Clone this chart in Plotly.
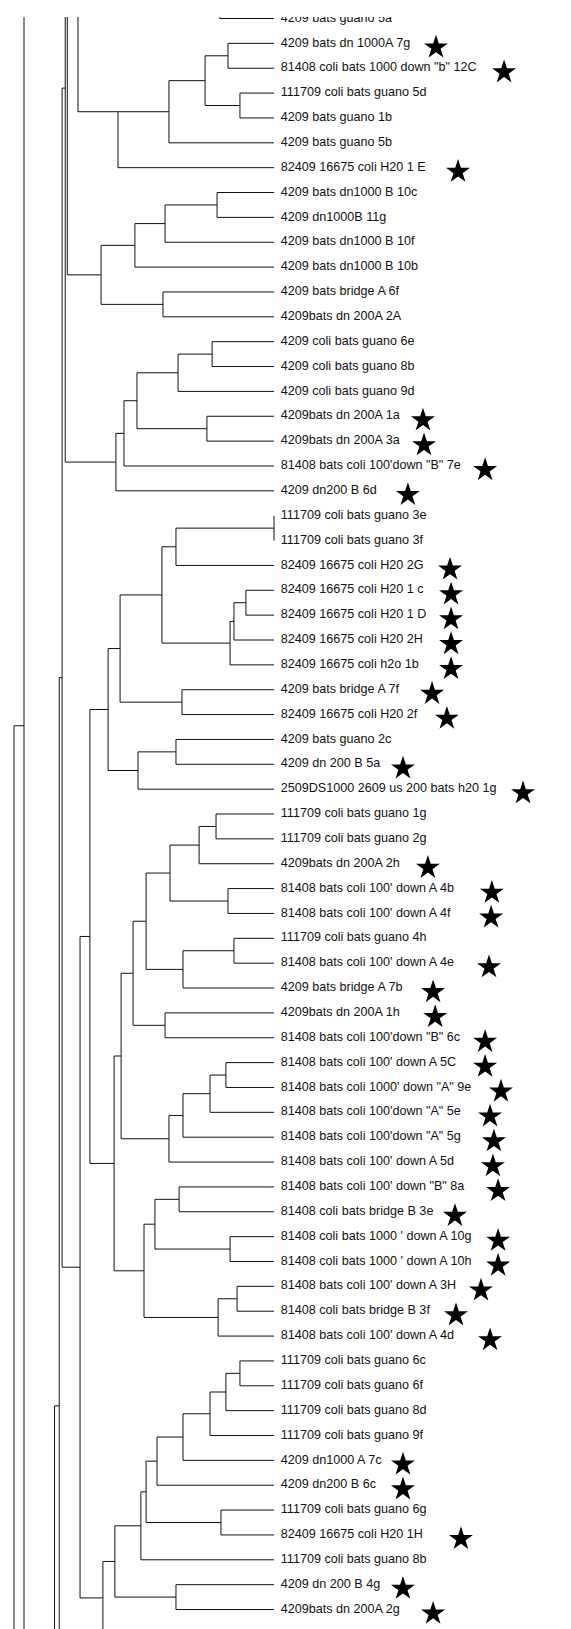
import plotly.graph_objects as go

# leaf labels, top to bottom (first and last are cut by the frame)
labels = [
    "4209 bats guano 5a", "4209 bats dn 1000A 7g", '81408 coli bats 1000 down "b" 12C',
    "111709 coli bats guano 5d", "4209 bats guano 1b", "4209 bats guano 5b",
    "82409 16675 coli H20 1 E", "4209 bats dn1000 B 10c", "4209 dn1000B 11g",
    "4209 bats dn1000 B 10f", "4209 bats dn1000 B 10b", "4209 bats bridge A 6f",
    "4209bats dn 200A 2A", "4209 coli bats guano 6e", "4209 coli bats guano 8b",
    "4209 coli bats guano 9d", "4209bats dn 200A 1a", "4209bats dn 200A 3a",
    '81408 bats coli 100\'down "B" 7e', "4209 dn200 B 6d", "111709 coli bats guano 3e",
    "111709 coli bats guano 3f", "82409 16675 coli H20 2G", "82409 16675 coli H20 1 c",
    "82409 16675 coli H20 1 D", "82409 16675 coli H20 2H", "82409 16675 coli h2o 1b",
    "4209 bats bridge A 7f", "82409 16675 coli H20 2f", "4209 bats guano 2c",
    "4209 dn 200 B 5a", "2509DS1000 2609 us 200 bats h20 1g", "111709 coli bats guano 1g",
    "111709 coli bats guano 2g", "4209bats dn 200A 2h", "81408 bats coli 100' down A 4b",
    "81408 bats coli 100' down A 4f", "111709 coli bats guano 4h", "81408 bats coli 100' down A 4e",
    "4209 bats bridge A 7b", "4209bats dn 200A 1h", '81408 bats coli 100\'down "B" 6c',
    "81408 bats coli 100' down A 5C", '81408 bats coli 1000\' down "A" 9e',
    '81408 bats coli 100\'down "A" 5e', '81408 bats coli 100\'down "A" 5g',
    "81408 bats coli 100' down A 5d", '81408 bats coli 100\' down "B" 8a',
    "81408 coli bats bridge B 3e", "81408 coli bats 1000 ' down A 10g",
    "81408 coli bats 1000 ' down A 10h", "81408 bats coli 100' down A 3H",
    "81408 coli bats bridge B 3f", "81408 bats coli 100' down A 4d",
    "111709 coli bats guano 6c", "111709 coli bats guano 6f", "111709 coli bats guano 8d",
    "111709 coli bats guano 9f", "4209 dn1000 A 7c", "4209 dn200 B 6c",
    "111709 coli bats guano 6g", "82409 16675 coli H20 1H", "111709 coli bats guano 8b",
    "4209 dn 200 B 4g", "4209bats dn 200A 2g", "4209 dn200 B 6e",
]

# starred isolates (leaf index) and where the star sits (similarity units)
star_leaf = [1, 2, 6, 16, 17, 18, 19, 22, 23, 24, 25, 26, 27, 28, 30, 31, 34, 35, 36,
             38, 39, 40, 41, 42, 43, 44, 45, 46, 47, 48, 49, 50, 51, 52, 53, 58, 59,
             61, 63, 64]
star_pos = [162.3, 188.5, 170.8, 157.3, 157.7, 181.2, 151.5, 167.7, 168.1, 168.1,
            168.1, 168.1, 160.8, 166.5, 149.6, 195.8, 159.2, 183.8, 183.5, 182.7,
            161.2, 162.0, 181.2, 181.2, 187.3, 183.1, 184.6, 184.2, 186.2, 169.6,
            186.2, 186.2, 179.6, 170.0, 183.1, 149.6, 149.6, 171.9, 149.6, 161.2]

# tree: (similarity %, children, joins-at-first-child); int = leaf index;
# ("cut", pos) = branch leaving the frame
def N(s, *kids, top=False):
    return (s, kids, top)

def cut(p):
    return ("cut", p)

clade_a = N(24.6, cut(-8), N(40.0, N(59.6, N(73.5, N(82.3, 1, 2), N(86.9, 3, 4)), 5), 6, top=True))
clade_top = N(79.2, cut(-2), 0)
clade_b = N(33.5, N(46.5, N(58.1, N(78.1, 7, 8), 9), 10), N(57.3, 11, 12))
clade_c = N(39.2, N(42.3, N(47.3, N(63.1, N(76.2, 13, 14), 15), N(74.2, 16, 17)), 18), 19)
clade_d = N(36.2,
            N(40.8, N(56.9, N(62.3, N(100.0, 20, 21), 22),
                      N(83.1, N(84.6, N(89.2, 23, 24), 25), 26)),
              N(64.6, 27, 28)),
            N(47.7, N(62.3, 29, 30), 31))
clade_e = N(38.5,
            N(41.2,
              N(45.8, N(50.8, N(60.0, N(71.2, N(77.7, 32, 33), 34), N(82.3, 35, 36)),
                        N(65.0, N(84.6, 37, 38), 39)),
                N(58.1, 40, 41)),
              N(59.6, N(65.0, N(75.4, N(81.5, 42, 43), 44), 45), 46)),
            N(50.0, N(54.2, N(63.5, 47, 48), N(83.1, 49, 50)),
              N(78.5, N(85.8, 51, 52), 53)))
clade_f = N(34.2,
            N(38.8,
              N(48.8, N(50.8, N(55.0, N(65.0, N(75.4, N(81.5, N(86.9, 54, 55), 56), 57), 58), 59),
                        N(79.6, 60, 61)), 62),
              N(62.3, 63, 64)),
            65)
clade_g = N(15.6, N(17.4, N(18.5, N(19.7, N(20.5, cut(-34.8), clade_b), clade_c),
                            N(25.4, N(29.2, clade_d, clade_e), clade_f)), cut(85.1)), cut(80))
clade_root = N(0.0, N(3.85, cut(-20), cut(76.9)), cut(90))

roots = [clade_top, clade_a, clade_g, clade_root]

xs, ys = [], []


def seg(x0, y0, x1, y1):
    xs.extend([x0, x1, None])
    ys.extend([y0, y1, None])


def place(node):
    if isinstance(node, int):
        return 100.0, float(node)
    if node[0] == "cut":
        return None, node[1]
    s, kids, top = node
    pos = [place(k) for k in kids]
    seg(s, pos[0][1], s, pos[-1][1])
    for kx, ky in pos:
        if kx is not None:
            seg(s, ky, kx, ky)
    if top:
        return s, pos[0][1]
    return s, (pos[0][1] + pos[-1][1]) / 2


for r in roots:
    place(r)

fig = go.Figure()
fig.add_trace(go.Scatter(x=xs, y=ys, mode="lines", line=dict(color="#111111", width=1),
                         hoverinfo="skip"))
fig.add_trace(go.Scatter(x=[102.6] * len(labels), y=list(range(len(labels))), mode="text",
                         text=labels, textposition="middle right",
                         textfont=dict(family="Liberation Sans, Arial", size=12.6, color="#111111")))
fig.add_trace(go.Scatter(x=star_pos, y=[i + 0.16 for i in star_leaf], mode="markers",
                         marker=dict(symbol="star", size=18, color="black", line=dict(width=0))))

fig.update_layout(
    width=571, height=1629, margin=dict(l=0, r=0, t=9, b=0),
    paper_bgcolor="white", plot_bgcolor="white", showlegend=False,
    xaxis=dict(range=[-2.3077, 217.31], visible=False, fixedrange=True),
    yaxis=dict(range=[65.105, -0.0603], visible=False, fixedrange=True),
)
fig.write_html("out.html")
